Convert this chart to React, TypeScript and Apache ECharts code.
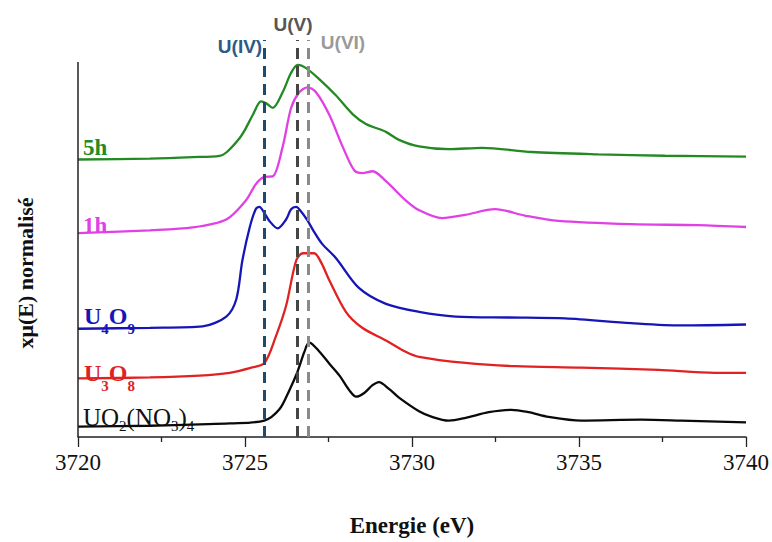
import React, { useEffect, useRef } from 'react';
import * as echarts from 'echarts';

// Energy (eV) / normalised absorption (vertically offset)
const BLACK_E = [3720.0, 3722.15, 3723.64, 3724.54, 3725.58, 3726.03, 3726.33, 3726.56, 3726.78, 3726.92, 3727.23, 3727.52, 3727.83, 3728.12, 3728.33, 3728.57, 3728.81, 3729.01, 3729.32, 3729.61, 3730.21, 3730.6, 3731.1, 3731.61, 3732.3, 3732.98, 3733.49, 3734.09, 3735.07, 3736.87, 3738.06, 3740.0];
const BLACK_MU = [0.22, 0.24, 0.27, 0.29, 0.35, 0.59, 1.0, 1.37, 1.82, 2.02, 1.82, 1.57, 1.31, 1.0, 0.86, 0.94, 1.1, 1.17, 1.02, 0.84, 0.55, 0.43, 0.35, 0.41, 0.53, 0.58, 0.53, 0.43, 0.35, 0.37, 0.35, 0.31];

const RED_E = [3720.0, 3722.15, 3723.64, 3724.54, 3725.14, 3725.58, 3725.91, 3726.23, 3726.53, 3726.73, 3727.07, 3727.29, 3727.52, 3728.02, 3728.51, 3729.22, 3729.81, 3730.21, 3731.6, 3733.09, 3735.07, 3737.38, 3739.07, 3740.0];
const RED_MU = [1.25, 1.27, 1.31, 1.37, 1.47, 1.58, 2.12, 2.8, 3.76, 3.92, 3.92, 3.71, 3.35, 2.67, 2.33, 2.06, 1.82, 1.71, 1.58, 1.51, 1.48, 1.43, 1.37, 1.37];

const BLUE_E = [3720.0, 3722.15, 3723.73, 3724.44, 3724.74, 3724.92, 3725.14, 3725.32, 3725.43, 3725.58, 3725.73, 3725.98, 3726.23, 3726.38, 3726.53, 3726.69, 3726.87, 3727.05, 3727.31, 3727.72, 3728.41, 3729.22, 3730.21, 3731.31, 3732.9, 3734.58, 3736.56, 3738.06, 3740.0];
const BLUE_MU = [2.31, 2.33, 2.36, 2.57, 2.94, 3.76, 4.47, 4.86, 4.91, 4.78, 4.61, 4.45, 4.64, 4.86, 4.91, 4.8, 4.62, 4.4, 4.12, 3.82, 3.18, 2.84, 2.67, 2.57, 2.55, 2.53, 2.43, 2.38, 2.4];

const MAG_E = [3720.0, 3722.15, 3723.43, 3724.44, 3725.03, 3725.32, 3725.58, 3725.83, 3726.13, 3726.38, 3726.63, 3726.87, 3727.12, 3727.52, 3727.92, 3728.27, 3728.52, 3728.82, 3729.22, 3729.81, 3730.21, 3730.9, 3731.6, 3732.49, 3733.4, 3734.39, 3736.56, 3738.56, 3740.0];
const MAG_MU = [4.35, 4.41, 4.47, 4.64, 5.05, 5.39, 5.55, 5.56, 6.2, 7.02, 7.36, 7.46, 7.36, 6.88, 6.2, 5.69, 5.63, 5.67, 5.46, 5.05, 4.84, 4.67, 4.74, 4.86, 4.72, 4.61, 4.54, 4.52, 4.48];

const GREEN_E = [3720.0, 3722.15, 3723.44, 3724.24, 3724.44, 3724.83, 3725.01, 3725.24, 3725.48, 3725.63, 3725.83, 3726.13, 3726.38, 3726.58, 3726.83, 3727.23, 3727.72, 3728.22, 3728.62, 3729.22, 3729.61, 3730.21, 3731.1, 3732.1, 3733.58, 3735.58, 3737.57, 3740.0];
const GREEN_MU = [5.92, 5.94, 5.97, 6.0, 6.07, 6.37, 6.57, 6.88, 7.16, 7.12, 7.02, 7.36, 7.77, 7.94, 7.87, 7.63, 7.29, 6.89, 6.68, 6.51, 6.34, 6.2, 6.14, 6.17, 6.08, 6.03, 6.0, 5.98];

const REF_ENERGIES = [3725.59, 3726.56, 3726.9];
const REF_LABELS = ['U(IV)', 'U(V)', 'U(VI)'];
const X_TICKS = [3720, 3725, 3730, 3735, 3740];

const COLORS = {
  black: '#0a0a0a',
  red: '#e02222',
  blue: '#1616b8',
  magenta: '#e040e4',
  green: '#238a23',
};
const REF_LINE_COLORS = ['#1e4a6e', '#454545', '#8a8a8a'];
const REF_TEXT_COLORS = ['#2d5a86', '#565656', '#9a9a9a'];

const pairs = (e: number[], m: number[]) => e.map((v, i) => [v, m[i]]);

const SERIF = '"Liberation Serif", "DejaVu Serif", serif';
const SANS = '"Liberation Sans", "DejaVu Sans", sans-serif';

export default function App() {
  const ref = useRef<HTMLDivElement>(null);
  useEffect(() => {
    if (!ref.current) return;
    const chart = echarts.init(ref.current, undefined, { renderer: 'svg' });
    const line = (name: string, e: number[], m: number[], color: string, extra: any = {}) => ({
      name,
      type: 'line',
      data: pairs(e, m),
      showSymbol: false,
      symbol: 'none',
      smooth: 0.3,
      lineStyle: { color, width: 2.3 },
      itemStyle: { color },
      silent: true,
      ...extra,
    });

    const refMarks = REF_ENERGIES.map((x, i) => [
      { coord: [x, 0], lineStyle: { color: REF_LINE_COLORS[i], width: 3, type: [11, 7] } },
      { coord: [x, 8.47] },
    ]);
    const axisMark = [
      { coord: [X_TICKS[0], 0], lineStyle: { color: '#222', width: 1.5, type: 'solid' } },
      { coord: [X_TICKS[0], 8.0] },
    ];

    const sub = { fontSize: 15, height: 15, padding: [17, 0, 0, 0], lineHeight: 32, verticalAlign: 'top' };

    chart.setOption({
      animation: false,
      backgroundColor: '#ffffff',
      grid: { left: 78, right: 24, top: 40, bottom: 87, containLabel: false },
      xAxis: {
        type: 'value',
        min: 3720,
        max: 3740,
        interval: 5,
        name: 'Energie (eV)',
        nameLocation: 'middle',
        nameGap: 77,
        nameTextStyle: { fontFamily: SERIF, fontSize: 23, fontWeight: 'bold', color: '#111' },
        axisLine: { show: true, lineStyle: { color: '#222', width: 1.5 } },
        axisTick: { show: true, length: 10, lineStyle: { color: '#222', width: 1.3 } },
        minorTick: { show: true, splitNumber: 2, length: 5, lineStyle: { color: '#222', width: 1.3 } },
        axisLabel: { fontFamily: SERIF, fontSize: 23, color: '#111', margin: 14, formatter: (v: number) => String(v) },
        splitLine: { show: false },
      },
      yAxis: {
        type: 'value',
        min: 0,
        max: 8.47,
        show: true,
        axisLine: { show: false },
        axisTick: { show: false },
        axisLabel: { show: false },
        splitLine: { show: false },
      },
      series: [
        line('UO2(NO3)4', BLACK_E, BLACK_MU, COLORS.black, {
          markLine: {
            silent: true,
            symbol: ['none', 'none'],
            label: { show: false },
            data: [axisMark, ...refMarks],
          },
        }),
        line('U3O8', RED_E, RED_MU, COLORS.red),
        line('U4O9', BLUE_E, BLUE_MU, COLORS.blue),
        line('1h', MAG_E, MAG_MU, COLORS.magenta),
        line('5h', GREEN_E, GREEN_MU, COLORS.green),
      ],
      graphic: [
        {
          type: 'text', x: 25, y: 273, rotation: Math.PI / 2,
          style: { text: 'xμ(E) normalisé', fontFamily: SERIF, fontSize: 22, fontWeight: 'bold', fill: '#111', align: 'center', verticalAlign: 'middle' },
        },
        {
          type: 'text', x: 240, y: 46,
          style: { text: REF_LABELS[0], fontFamily: SANS, fontSize: 19, fontWeight: 'bold', fill: REF_TEXT_COLORS[0], align: 'center', verticalAlign: 'middle' },
        },
        {
          type: 'text', x: 293, y: 24,
          style: { text: REF_LABELS[1], fontFamily: SANS, fontSize: 19, fontWeight: 'bold', fill: REF_TEXT_COLORS[1], align: 'center', verticalAlign: 'middle' },
        },
        {
          type: 'text', x: 343, y: 42,
          style: { text: REF_LABELS[2], fontFamily: SANS, fontSize: 19, fontWeight: 'bold', fill: REF_TEXT_COLORS[2], align: 'center', verticalAlign: 'middle' },
        },
        {
          type: 'text', x: 83, y: 147,
          style: { text: '5h', fontFamily: SERIF, fontSize: 23, fontWeight: 'bold', fill: COLORS.green, align: 'left', verticalAlign: 'middle' },
        },
        {
          type: 'text', x: 83, y: 225,
          style: { text: '1h', fontFamily: SERIF, fontSize: 23, fontWeight: 'bold', fill: COLORS.magenta, align: 'left', verticalAlign: 'middle' },
        },
        {
          type: 'text', x: 84, y: 304,
          style: {
            text: '{m|U}{s|4}{m|O}{s|9}', align: 'left', verticalAlign: 'top', fill: COLORS.blue,
            fontFamily: SERIF, fontWeight: 'bold',
            rich: {
              m: { fontSize: 24, lineHeight: 24, verticalAlign: 'top', fontFamily: SERIF, fontWeight: 'bold', fill: COLORS.blue },
              s: { ...sub, fontFamily: SERIF, fontWeight: 'bold', fill: COLORS.blue },
            },
          },
        },
        {
          type: 'text', x: 84, y: 361,
          style: {
            text: '{m|U}{s|3}{m|O}{s|8}', align: 'left', verticalAlign: 'top', fill: COLORS.red,
            fontFamily: SERIF, fontWeight: 'bold',
            rich: {
              m: { fontSize: 24, lineHeight: 24, verticalAlign: 'top', fontFamily: SERIF, fontWeight: 'bold', fill: COLORS.red },
              s: { ...sub, fontFamily: SERIF, fontWeight: 'bold', fill: COLORS.red },
            },
          },
        },
        {
          type: 'text', x: 83, y: 405,
          style: {
            text: '{m|UO}{s|2}{m|(NO}{s|3}{m|)}{s|4}', align: 'left', verticalAlign: 'top', fill: '#111',
            fontFamily: SERIF,
            rich: {
              m: { fontSize: 25, lineHeight: 25, verticalAlign: 'top', fontFamily: SERIF, fill: '#111' },
              s: { ...sub, padding: [13, 0, 0, 0], lineHeight: 28, fontFamily: SERIF, fill: '#111' },
            },
          },
        },
      ],
    });
    return () => chart.dispose();
  }, []);
  return <div ref={ref} style={{ position: 'fixed', left: 0, top: 0, width: 772, height: 542 }} />;
}
